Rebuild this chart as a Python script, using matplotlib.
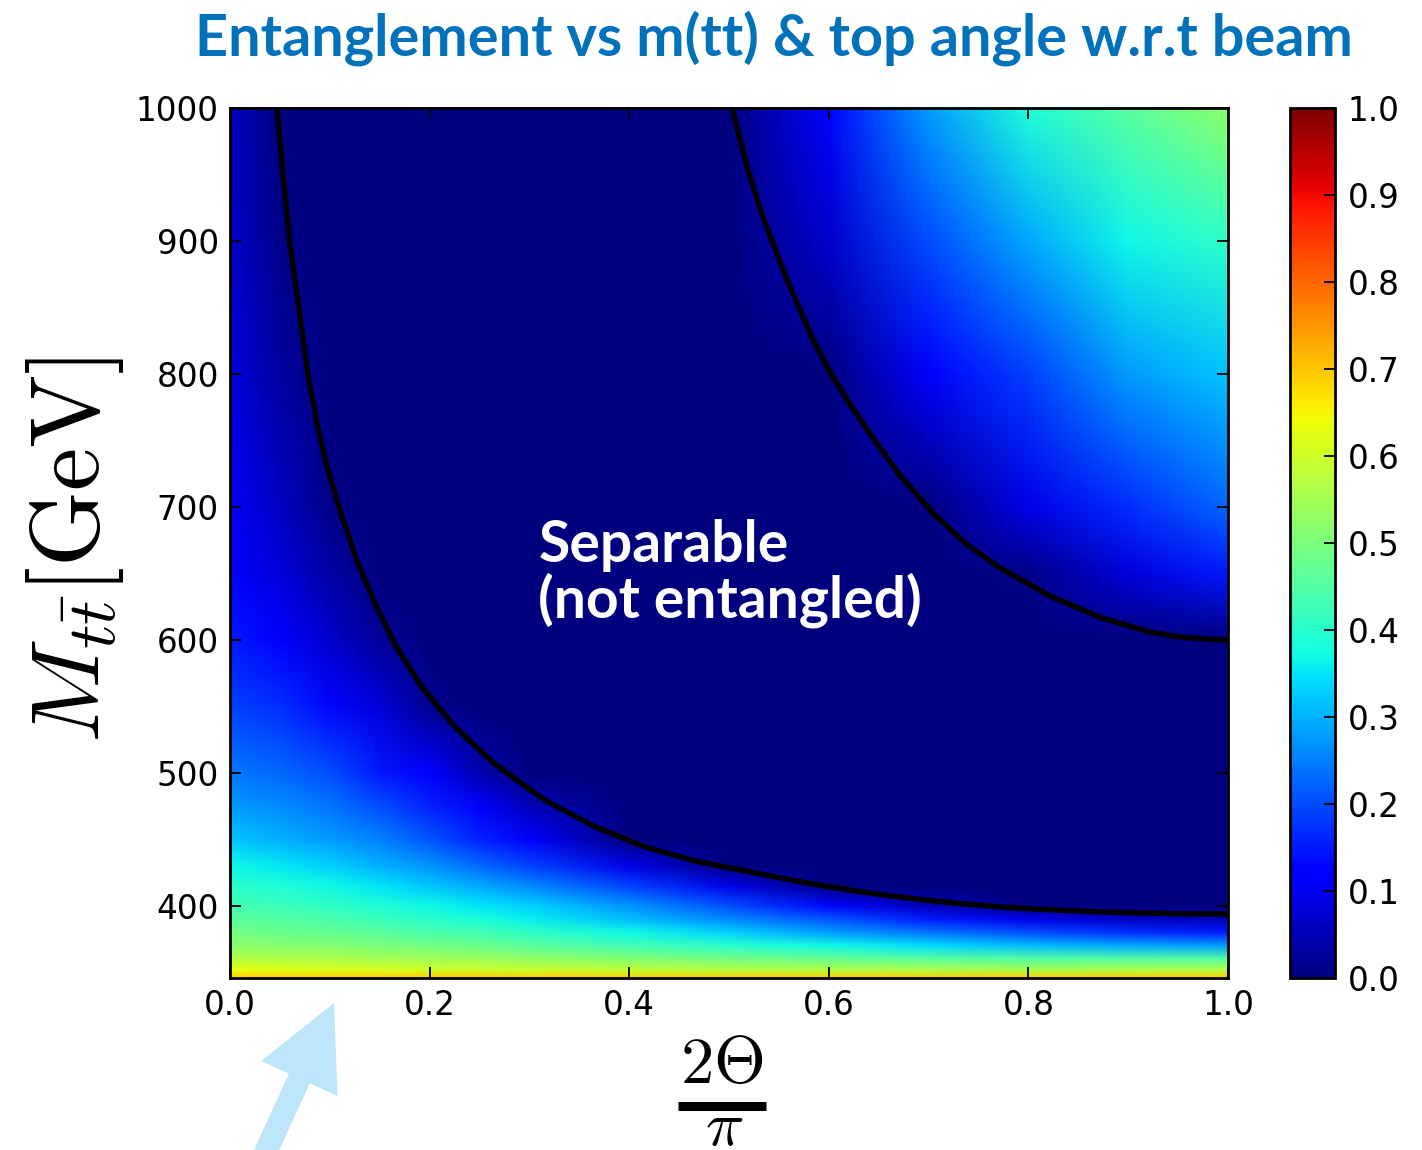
import numpy as np
import matplotlib
matplotlib.use("Agg")
import matplotlib.pyplot as plt
from matplotlib.colors import Normalize
from matplotlib.image import NonUniformImage
from matplotlib.patches import FancyArrow

plt.rcParams["mathtext.fontset"] = "cm"

# grid of 2*Theta/pi values (columns) and M_tt values in GeV (rows)
angle = [0.0, 0.05, 0.10, 0.15, 0.20, 0.25, 0.30, 0.40, 0.50, 0.60, 0.70, 0.80, 0.90, 1.00]
mass = [346, 352, 360, 370, 380, 390, 400, 415, 430, 450, 475, 500, 550, 600, 650, 700, 800, 900, 1000]

# entanglement, one row per mass value
conc = [
    [0.69, 0.69, 0.69, 0.69, 0.69, 0.69, 0.69, 0.69, 0.69, 0.69, 0.69, 0.69, 0.69, 0.69],
    [0.63, 0.62, 0.615, 0.61, 0.60, 0.595, 0.59, 0.58, 0.57, 0.56, 0.555, 0.55, 0.555, 0.56],
    [0.57, 0.565, 0.56, 0.55, 0.545, 0.54, 0.53, 0.51, 0.49, 0.475, 0.46, 0.45, 0.45, 0.45],
    [0.52, 0.515, 0.51, 0.50, 0.49, 0.48, 0.46, 0.43, 0.40, 0.37, 0.34, 0.31, 0.29, 0.28],
    [0.49, 0.48, 0.47, 0.46, 0.44, 0.43, 0.41, 0.37, 0.33, 0.28, 0.24, 0.20, 0.17, 0.15],
    [0.46, 0.45, 0.44, 0.42, 0.40, 0.38, 0.36, 0.31, 0.26, 0.21, 0.15, 0.09, 0.06, 0.05],
    [0.43, 0.425, 0.41, 0.39, 0.37, 0.35, 0.33, 0.27, 0.20, 0.13, 0.05, 0.0, 0.0, 0.0],
    [0.40, 0.39, 0.37, 0.35, 0.32, 0.29, 0.26, 0.19, 0.09, 0.0, 0.0, 0.0, 0.0, 0.0],
    [0.37, 0.355, 0.33, 0.30, 0.27, 0.23, 0.19, 0.09, 0.0, 0.0, 0.0, 0.0, 0.0, 0.0],
    [0.32, 0.30, 0.28, 0.25, 0.21, 0.16, 0.11, 0.0, 0.0, 0.0, 0.0, 0.0, 0.0, 0.0],
    [0.275, 0.265, 0.24, 0.20, 0.16, 0.11, 0.05, 0.0, 0.0, 0.0, 0.0, 0.0, 0.0, 0.0],
    [0.245, 0.23, 0.20, 0.15, 0.11, 0.04, 0.0, 0.0, 0.0, 0.0, 0.0, 0.0, 0.0, 0.0],
    [0.19, 0.17, 0.13, 0.08, 0.015, 0.0, 0.0, 0.0, 0.0, 0.0, 0.0, 0.0, 0.0, 0.0],
    [0.15, 0.11, 0.07, 0.02, 0.0, 0.0, 0.0, 0.0, 0.0, 0.0, 0.0, 0.0, 0.0, 0.0],
    [0.12, 0.08, 0.035, 0.0, 0.0, 0.0, 0.0, 0.0, 0.0, 0.0, 0.0, 0.01, 0.08, 0.15],
    [0.105, 0.06, 0.01, 0.0, 0.0, 0.0, 0.0, 0.0, 0.0, 0.0, 0.0, 0.09, 0.17, 0.23],
    [0.085, 0.03, 0.0, 0.0, 0.0, 0.0, 0.0, 0.0, 0.0, 0.0, 0.11, 0.19, 0.28, 0.32],
    [0.07, 0.01, 0.0, 0.0, 0.0, 0.0, 0.0, 0.0, 0.0, 0.07, 0.20, 0.29, 0.37, 0.41],
    [0.06, 0.0, 0.0, 0.0, 0.0, 0.0, 0.0, 0.0, 0.0, 0.13, 0.28, 0.39, 0.46, 0.52],
]

# boundaries of the separable region (black lines)
lower_x = [0.047, 0.053, 0.060, 0.069, 0.078, 0.088, 0.098, 0.110, 0.127, 0.145,
           0.165, 0.192, 0.225, 0.265, 0.315, 0.365, 0.416, 0.466, 0.499, 0.540,
           0.582, 0.630, 0.681, 0.730, 0.780, 0.830, 0.879, 0.940, 1.0]
lower_m = [1000, 950, 898, 850, 800, 760, 728, 698, 660, 628,
           597, 565, 535, 507, 480, 460, 444.5, 434, 429, 423,
           417, 411, 406, 402, 399, 397, 395.5, 394.5, 394]
upper_x = [0.503, 0.518, 0.534, 0.558, 0.584, 0.600, 0.618, 0.645, 0.671, 0.705,
           0.738, 0.772, 0.822, 0.872, 0.922, 0.950, 0.972, 1.0]
upper_m = [1000, 956, 918, 871, 826, 803, 781, 751, 724, 695,
           672, 654, 633, 617, 606, 602.5, 601, 600]

xticks = [0.0, 0.2, 0.4, 0.6, 0.8, 1.0]
yticks = [400, 500, 600, 700, 800, 900, 1000]
cticks = [0.0, 0.1, 0.2, 0.3, 0.4, 0.5, 0.6, 0.7, 0.8, 0.9, 1.0]

W, H = 1422, 1150
fig = plt.figure(figsize=(W / 100, H / 100), dpi=100)
ax = fig.add_axes([230 / W, 1 - 978 / H, 998 / W, 870 / H])

im = NonUniformImage(ax, interpolation="bilinear", cmap="jet",
                     norm=Normalize(0, 1), extent=(0, 1, 346, 1000))
im.set_data(np.array(angle), np.array(mass, dtype=float), np.array(conc))
ax.add_image(im)
ax.set_xlim(0, 1)
ax.set_ylim(346, 1000)

for xs, ms in [(lower_x, lower_m), (upper_x, upper_m)]:
    ax.plot(xs, ms, color="black", lw=4, solid_joinstyle="round",
            solid_capstyle="butt")

ax.set_xticks(xticks)
ax.set_xticklabels([f"{v:.1f}" for v in xticks])
ax.set_yticks(yticks)
ax.set_yticklabels([str(v) for v in yticks])
ax.tick_params(direction="in", length=8, width=1.3, labelsize=23.5,
               top=True, right=True, pad=8)
for s in ax.spines.values():
    s.set_linewidth(2)

ax.text(0.309, 0.465, "Separable\n(not entangled)", transform=ax.transAxes,
        color="white", fontsize=41, fontweight="bold", family="Lato",
        ha="left", va="center", linespacing=1.0)

cax = fig.add_axes([1290 / W, 1 - 978 / H, 45 / W, 870 / H])
cb = fig.colorbar(im, cax=cax, ticks=cticks)
cb.ax.set_yticklabels([f"{v:.1f}" for v in cticks])
cb.ax.tick_params(direction="in", length=8, width=1.3, labelsize=23.5, pad=9)
cb.outline.set_linewidth(2)

fig.text(774 / W, 1 - 38 / H, "Entanglement vs m(tt) & top angle w.r.t beam",
         color="#0072bc", fontsize=41.5, fontweight="bold", family="Lato",
         ha="center", va="center")

fig.text(75 / W, 1 - 550 / H, r"$M_{t\bar{t}}[\mathrm{GeV}]$", fontsize=70,
         rotation=90, ha="center", va="center")

# x label drawn as a stacked fraction
fig.text(722 / W, 1 - 1064 / H, r"$2\Theta$", fontsize=48, ha="center", va="center")
fig.text(724 / W, 1 - 1145 / H, r"$\pi$", fontsize=46, ha="center", va="baseline")

over = fig.add_axes([0, 0, 1, 1])
over.set_xlim(0, W)
over.set_ylim(H, 0)
over.axis("off")
over.plot([678, 766], [1106, 1106], color="black", lw=6.5, solid_capstyle="butt")
over.add_patch(FancyArrow(262, 1160, 72, -157, width=23, head_width=84,
                          head_length=83, length_includes_head=True,
                          color="#bde6fb", lw=0))

fig.savefig("out.png", dpi=100)
